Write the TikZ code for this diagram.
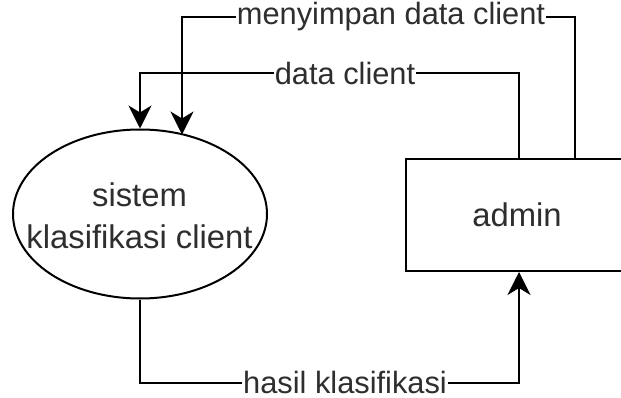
\documentclass[tikz,border=0pt]{standalone}
\usepackage{fontspec}
\setmainfont{Liberation Sans}
\usetikzlibrary{arrows.meta,shapes.geometric}
\begin{document}
\begin{tikzpicture}[x=1pt,y=-1pt,
  every node/.style={text=black!82},
  nodetext/.style={font=\fontsize{32.8}{42}\selectfont, inner sep=0pt},
  outline/.style={draw=black, line width=2pt},
  flow/.style={draw=black, line width=2pt, line join=miter,
    -{Stealth[length=23pt,width=23pt,inset=7pt]}},
  flowlabel/.style={font=\fontsize{30.8}{37}\selectfont, fill=white, inner xsep=1pt, inner ysep=0.5pt}]
\useasboundingbox (0,0) rectangle (621,398);
\fill[white] (0,0) rectangle (621,398);

% processes and entities
\node[outline, ellipse, minimum width=254pt, minimum height=169pt, inner sep=0pt] (sys) at (140,214) {};
\node[nodetext, align=center] (syslabel) at (139.5,216) {sistem\\klasifikasi client};
\node[outline, rectangle, minimum width=222pt, minimum height=112pt, inner sep=0pt] (adm) at (517,215) {};
\node[nodetext] (admlabel) at (517,215) {admin};

% bend points of the data flows
\coordinate (a1) at (575,17);
\coordinate (a2) at (182,17);
\coordinate (e2) at (182,134.5);
\coordinate (b1) at (519,73);
\coordinate (b2) at (140,73);
\coordinate (c1) at (140,383);
\coordinate (c2) at (519,383);

% data flows
\draw[flow] (adm.north -| a1) -- (a1) -- (a2) -- (e2);
\draw[flow] (adm.north -| b1) -- (b1) -- (b2) -- (sys.north);
\draw[flow] (sys.south) -- (c1) -- (c2) -- (adm.south -| c2);

% flow labels
\node[flowlabel] (l1) at (391,17) {menyimpan data client};
\node[flowlabel] (l2) at (345,73) {data client};
\node[flowlabel] (l3) at (345,382.5) {hasil klasifikasi};
\end{tikzpicture}
\end{document}
